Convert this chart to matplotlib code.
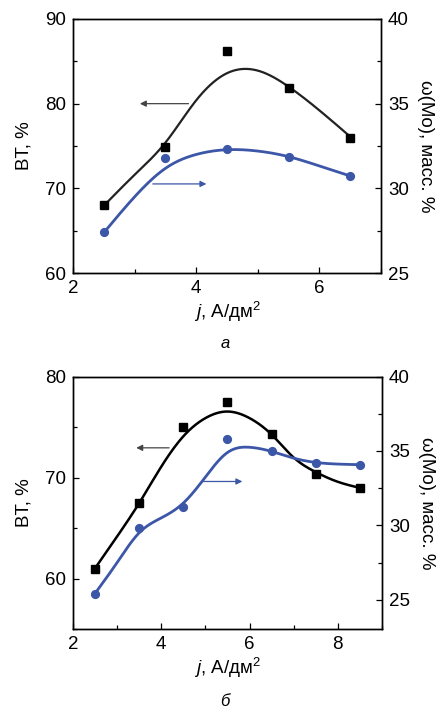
import numpy as np
import matplotlib
matplotlib.use('Agg')
import matplotlib.pyplot as plt
from matplotlib.ticker import MultipleLocator

plt.rcParams['font.family'] = ['Liberation Sans', 'DejaVu Sans']
plt.rcParams['mathtext.fontset'] = 'custom'
plt.rcParams['mathtext.rm'] = 'Liberation Sans'
plt.rcParams['mathtext.it'] = 'Liberation Sans:italic'

BLUE = '#3c56a8'

# panel a: measured points
j_a = [2.5, 3.5, 4.5, 5.5, 6.5]
bt_a = [68.0, 74.9, 86.2, 81.8, 76.0]
mo_a = [27.4, 31.8, 32.35, 31.85, 30.75]
# panel a: fitted curves
jfit_a = [2.5, 3.0, 3.5, 4.0, 4.5, 5.0, 5.5, 6.0, 6.5]
btfit_a = [67.95, 71.6, 75.4, 80.4, 83.6, 83.9, 82.0, 79.2, 76.1]
mofit_a = [27.38, 29.5, 31.18, 32.0, 32.28, 32.2, 31.87, 31.32, 30.73]

# panel б: measured points
j_b = [2.5, 3.5, 4.5, 5.5, 6.5, 7.5, 8.5]
bt_b = [61.0, 67.55, 75.0, 77.5, 74.3, 70.4, 69.0]
mo_b = [25.4, 29.8, 31.2, 35.8, 34.97, 34.2, 34.07]
# panel б: fitted curves
jfit_b = [2.5, 3.0, 3.5, 4.0, 4.5, 5.0, 5.5, 6.0, 6.5, 7.0, 7.5, 8.0, 8.5]
btfit_b = [61.05, 64.2, 67.5, 71.1, 74.1, 75.9, 76.55, 75.9, 74.27, 72.0, 70.56, 69.6, 69.0]
mofit_b = [25.42, 27.5, 29.5, 30.5, 31.5, 33.25, 34.9, 35.25, 34.97, 34.52, 34.23, 34.12, 34.08]


def spline(x, y, n=300):
    # natural cubic spline, just for drawing a smooth line
    x = np.asarray(x, float)
    y = np.asarray(y, float)
    k = len(x)
    h = np.diff(x)
    A = np.zeros((k, k))
    b = np.zeros(k)
    A[0, 0] = A[-1, -1] = 1
    for i in range(1, k - 1):
        A[i, i - 1] = h[i - 1]
        A[i, i] = 2 * (h[i - 1] + h[i])
        A[i, i + 1] = h[i]
        b[i] = 3 * ((y[i + 1] - y[i]) / h[i] - (y[i] - y[i - 1]) / h[i - 1])
    c = np.linalg.solve(A, b)
    xs = np.linspace(x[0], x[-1], n)
    idx = np.clip(np.searchsorted(x, xs) - 1, 0, k - 2)
    dx = xs - x[idx]
    bc = (y[1:] - y[:-1]) / h - h * (2 * c[:-1] + c[1:]) / 3
    d = (c[1:] - c[:-1]) / (3 * h)
    return xs, y[idx] + bc[idx] * dx + c[idx] * dx ** 2 + d[idx] * dx ** 3


def style(ax, ax2):
    for a in (ax, ax2):
        a.tick_params(which='both', direction='in', labelsize=13.5, width=0.9, pad=5)
        a.tick_params(which='major', length=4)
        a.tick_params(which='minor', length=3)
        for s in a.spines.values():
            s.set_linewidth(1.0)
    ax.tick_params(top=False, right=False, which='both')
    ax.xaxis.set_major_locator(MultipleLocator(2))
    ax.xaxis.set_minor_locator(MultipleLocator(1))
    ax.yaxis.set_major_locator(MultipleLocator(10))
    ax.yaxis.set_minor_locator(MultipleLocator(5))
    ax2.yaxis.set_major_locator(MultipleLocator(5))
    ax2.yaxis.set_minor_locator(MultipleLocator(2.5))
    ax.set_ylabel('BT, %', fontsize=13.5, labelpad=9)
    ax2.set_ylabel('ω(Mo), масс. %', fontsize=13.5, rotation=270, labelpad=18)
    ax.set_xlabel('$j$, А/дм$^2$', fontsize=13.5, labelpad=2)


def arrow(a, x0, x1, y, col):
    a.annotate('', xy=(x1, y), xytext=(x0, y),
               arrowprops=dict(arrowstyle='-|>', color=col, lw=0.9,
                               mutation_scale=9))


fig = plt.figure(figsize=(4.38, 7.08), dpi=100)

# ---- panel a
ax = fig.add_axes([0.1667, 0.6144, 0.7033, 0.3588])
ax2 = ax.twinx()
x, y = spline(jfit_a, btfit_a)
ax.plot(x, y, color='#222222', lw=1.6)
ax.plot(j_a, bt_a, 's', color='black', ms=5.3)
x, y = spline(jfit_a, mofit_a)
ax2.plot(x, y, color=BLUE, lw=2.0)
ax2.plot(j_a, mo_a, 'o', color=BLUE, ms=5.6)
ax.set_xlim(2, 7)
ax.set_ylim(60, 90)
ax2.set_ylim(25, 40)
arrow(ax, 3.92, 3.04, 80.0, '#444444')
arrow(ax2, 3.25, 4.21, 30.26, BLUE)
style(ax, ax2)
fig.text(0.514, 0.515, 'а', fontsize=12, style='italic', ha='center', va='center')

# ---- panel б
ax = fig.add_axes([0.1667, 0.111, 0.7053, 0.357])
ax2 = ax.twinx()
x, y = spline(jfit_b, btfit_b)
ax.plot(x, y, color='black', lw=1.8)
ax.plot(j_b, bt_b, 's', color='black', ms=5.3)
x, y = spline(jfit_b, mofit_b)
ax2.plot(x, y, color=BLUE, lw=2.0)
ax2.plot(j_b, mo_b, 'o', color=BLUE, ms=5.6)
ax.set_xlim(2, 9)
ax.set_ylim(55, 80)
ax2.set_ylim(23, 40)
arrow(ax, 4.24, 3.37, 72.96, '#444444')
arrow(ax2, 4.88, 5.9, 32.95, BLUE)
style(ax, ax2)
fig.text(0.514, 0.009, 'б', fontsize=12, style='italic', ha='center', va='center')

fig.savefig('out.png', dpi=100)
